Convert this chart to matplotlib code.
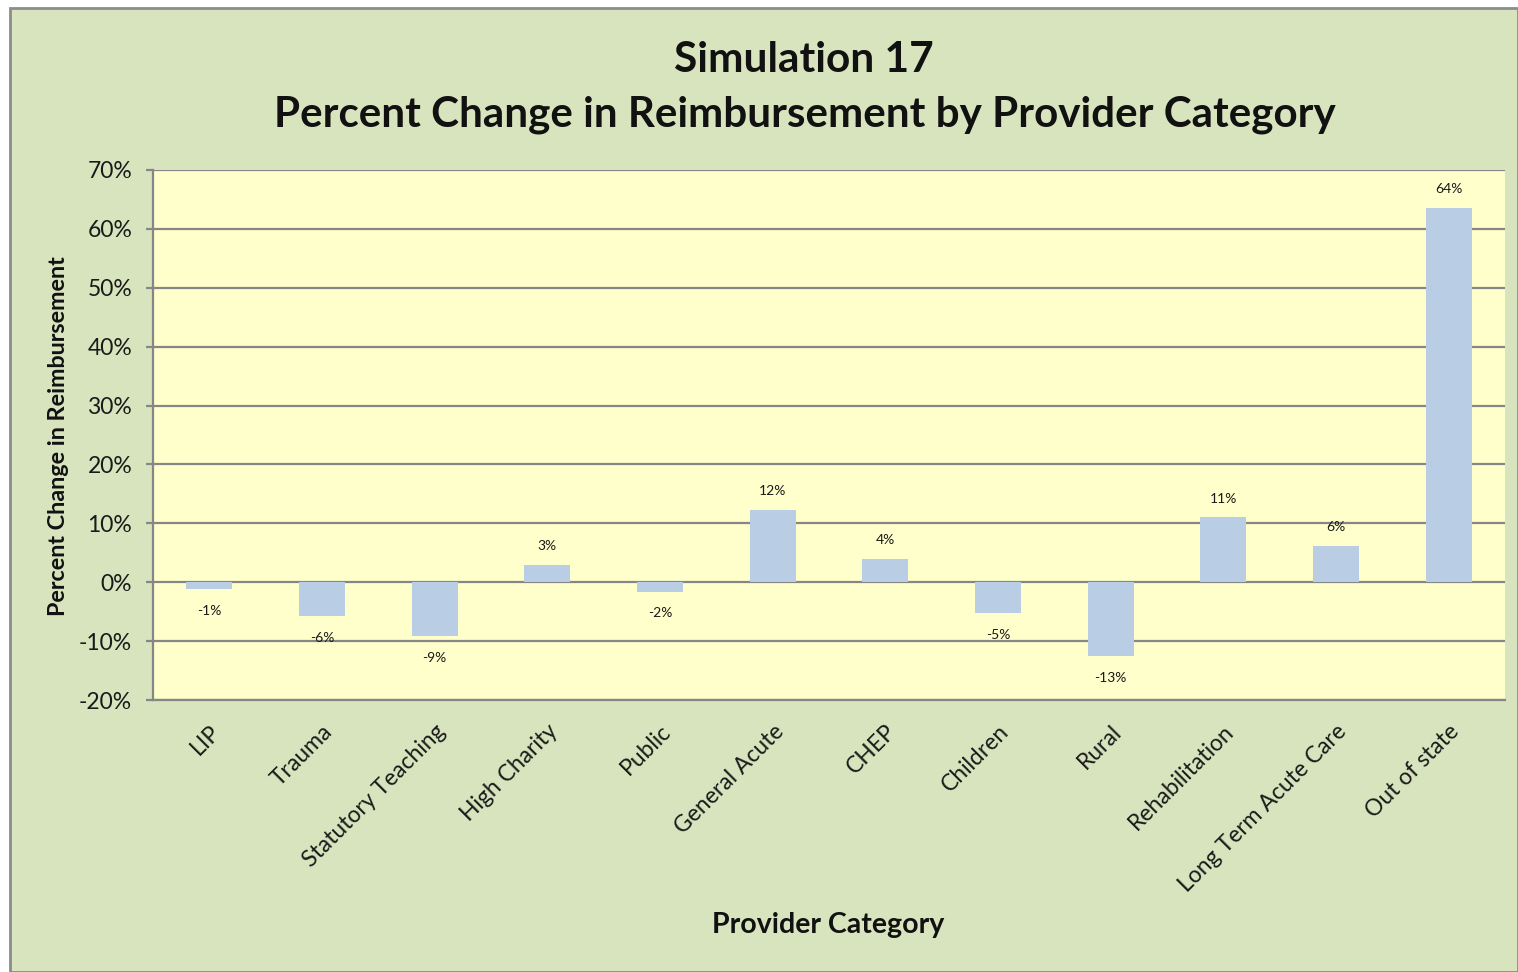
import matplotlib
matplotlib.use("Agg")
import matplotlib.pyplot as plt
from matplotlib.patches import Rectangle
from matplotlib.ticker import FuncFormatter, MultipleLocator
import matplotlib.transforms as mtransforms

categories = ["LIP", "Trauma", "Statutory Teaching", "High Charity", "Public",
              "General Acute", "CHEP", "Children", "Rural", "Rehabilitation",
              "Long Term Acute Care", "Out of state"]
values = [-1.2, -5.8, -9.2, 3.0, -1.6, 12.3, 4.0, -5.3, -12.6, 11.0, 6.2, 63.6]
labels = ["-1%", "-6%", "-9%", "3%", "-2%", "12%", "4%", "-5%", "-13%", "11%", "6%", "64%"]

FONT = ["Lato", "DejaVu Sans"]
plt.rcParams["font.family"] = FONT

fig = plt.figure(figsize=(15.18, 9.72), dpi=100)
fig.patch.set_facecolor("white")
bg = Rectangle((10 / 1518, 0), 1 - 10 / 1518, 1 - 8 / 972, transform=fig.transFigure,
               facecolor="#D7E4BD", edgecolor="#8C8C8C", linewidth=2, zorder=-10)
fig.patches.append(bg)

ax = fig.add_axes([153 / 1518, 1 - 700 / 972, (1505 - 153) / 1518, (700 - 170) / 972])
ax.set_zorder(2)
ax.set_facecolor("#FFFFCC")

x = list(range(len(categories)))
ax.bar(x, values, width=0.41, color="#B9CDE5", zorder=3)

for xi, v, lab in zip(x, values, labels):
    if v >= 0:
        ax.annotate(lab, (xi, v), xytext=(0, 9), textcoords="offset points",
                    ha="center", va="bottom", fontsize=10, color="#1a1a1a")
    else:
        ax.annotate(lab, (xi, v), xytext=(0, -11), textcoords="offset points",
                    ha="center", va="top", fontsize=10, color="#1a1a1a")

ax.set_xlim(-0.5, len(categories) - 0.5)
ax.set_ylim(-20, 70)
ax.yaxis.set_major_locator(MultipleLocator(10))
ax.yaxis.set_major_formatter(FuncFormatter(lambda v, p: f"{v:.0f}%"))
ax.grid(axis="y", color="#868686", linewidth=1.6, zorder=1)
ax.set_axisbelow(True)

for s in ["top", "right"]:
    ax.spines[s].set_visible(False)
for s in ["left", "bottom"]:
    ax.spines[s].set_color("#868686")
    ax.spines[s].set_linewidth(1.6)

ax.tick_params(axis="y", length=5, width=1.6, color="#868686", labelsize=16.5,
               labelcolor="#1a1a1a", pad=10)
ax.tick_params(axis="x", length=0, labelsize=16.5, labelcolor="#1a1a1a", pad=15)
ax.set_xticks(x)
ax.set_xticklabels(categories, rotation=45, ha="right", va="top", rotation_mode="anchor")
for t in ax.get_xticklabels():
    t.set_transform(t.get_transform() + mtransforms.ScaledTranslation(0 / 100, 0, fig.dpi_scale_trans))

fig.text(804 / 1518, 1 - 60 / 972, "Simulation 17", ha="center", va="center",
         fontsize=30.5, fontweight="bold", color="#111111")
fig.text(805 / 1518, 1 - 115 / 972, "Percent Change in Reimbursement by Provider Category",
         ha="center", va="center", fontsize=30.3, fontweight="bold", color="#111111")
fig.text(828 / 1518, 1 - 925 / 972, "Provider Category", ha="center", va="center",
         fontsize=20.5, fontweight="bold", color="#111111")
fig.text(59 / 1518, 1 - 436 / 972, "Percent Change in Reimbursement", ha="center", va="center",
         rotation=90, fontsize=16.8, fontweight="bold", color="#111111")

fig.savefig("out.png", dpi=100, facecolor=fig.get_facecolor())
